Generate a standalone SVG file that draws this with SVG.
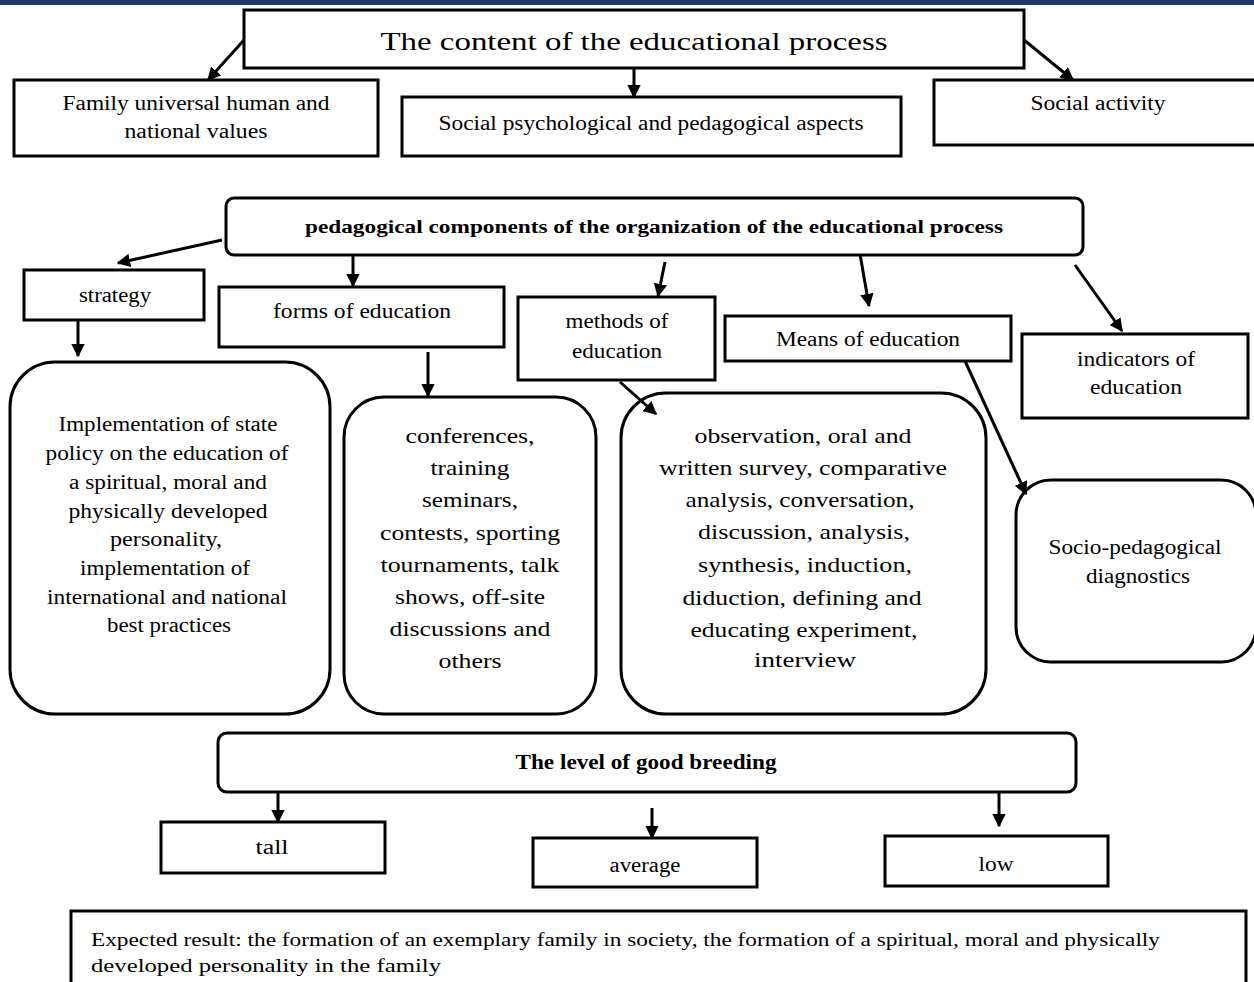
<svg xmlns="http://www.w3.org/2000/svg" width="1254" height="982" viewBox="0 0 1254 982">
<defs>
<marker id="ah" viewBox="0 0 10 10" refX="9" refY="5" markerWidth="4.5" markerHeight="4.5" orient="auto" markerUnits="strokeWidth">
<path d="M0,0 L10,5 L0,10 z" fill="#000"/>
</marker>
</defs>
<style>
.b{fill:#fff;stroke:#000;stroke-width:3}
.t{font-family:"Liberation Serif","DejaVu Serif",serif;font-size:20px;fill:#000;text-anchor:middle}
.bd{font-weight:bold}
.c{stroke:#000;stroke-width:3;fill:none;marker-end:url(#ah)}
</style>
<rect width="1254" height="982" fill="#fff"/>
<rect x="0" y="0" width="1254" height="5" fill="#1f3a68"/>

<g id="content">
<rect class="b" x="244" y="10" width="780" height="58"/>
<text class="t" x="634" y="50" style="font-size:26px" textLength="507" lengthAdjust="spacingAndGlyphs">The content of the educational process</text>
</g>
<g id="family">
<rect class="b" x="14" y="80" width="364" height="76"/>
<text class="t" x="196" y="110" textLength="267" lengthAdjust="spacingAndGlyphs">Family universal human and</text>
<text class="t" x="196" y="138" textLength="143" lengthAdjust="spacingAndGlyphs">national values</text>
</g>
<g id="socpsych">
<rect class="b" x="402" y="97" width="499" height="59"/>
<text class="t" x="651" y="130" textLength="425" lengthAdjust="spacingAndGlyphs">Social psychological and pedagogical aspects</text>
</g>
<g id="socact">
<rect class="b" x="934" y="80" width="322" height="65"/>
<text class="t" x="1098" y="110" textLength="135" lengthAdjust="spacingAndGlyphs">Social activity</text>
</g>

<g id="pedcomp">
<rect class="b" x="226" y="198" width="857" height="57" rx="8"/>
<text class="t bd" x="654" y="233" style="font-size:19px" textLength="698" lengthAdjust="spacingAndGlyphs">pedagogical components of the organization of the educational process</text>
</g>
<g id="strategy">
<rect class="b" x="24" y="270" width="180" height="50"/>
<text class="t" x="115" y="302" textLength="72" lengthAdjust="spacingAndGlyphs">strategy</text>
</g>
<g id="forms">
<rect class="b" x="219" y="287" width="285" height="60"/>
<text class="t" x="362" y="318" textLength="178" lengthAdjust="spacingAndGlyphs">forms of education</text>
</g>
<g id="methods">
<rect class="b" x="518" y="297" width="197" height="83"/>
<text class="t" x="617" y="328" textLength="103" lengthAdjust="spacingAndGlyphs">methods of</text>
<text class="t" x="617" y="358" textLength="90" lengthAdjust="spacingAndGlyphs">education</text>
</g>
<g id="means">
<rect class="b" x="725" y="316" width="286" height="45"/>
<text class="t" x="868" y="346" textLength="184" lengthAdjust="spacingAndGlyphs">Means of education</text>
</g>
<g id="indicators">
<rect class="b" x="1022" y="334" width="226" height="84"/>
<text class="t" x="1136" y="366" textLength="118" lengthAdjust="spacingAndGlyphs">indicators of</text>
<text class="t" x="1136" y="394" textLength="92" lengthAdjust="spacingAndGlyphs">education</text>
</g>

<g id="implementation">
<rect class="b" x="10" y="362" width="320" height="352" rx="45"/>
<text class="t" x="168" y="431" textLength="219" lengthAdjust="spacingAndGlyphs">Implementation of state</text>
<text class="t" x="167" y="460" textLength="243" lengthAdjust="spacingAndGlyphs">policy on the education of</text>
<text class="t" x="168" y="489" textLength="198" lengthAdjust="spacingAndGlyphs">a spiritual, moral and</text>
<text class="t" x="168" y="518" textLength="199" lengthAdjust="spacingAndGlyphs">physically developed</text>
<text class="t" x="166" y="546" textLength="112" lengthAdjust="spacingAndGlyphs">personality,</text>
<text class="t" x="165" y="575" textLength="170" lengthAdjust="spacingAndGlyphs">implementation of</text>
<text class="t" x="167" y="604" textLength="240" lengthAdjust="spacingAndGlyphs">international and national</text>
<text class="t" x="169" y="632" textLength="124" lengthAdjust="spacingAndGlyphs">best practices</text>
</g>
<g id="conferences">
<rect class="b" x="344" y="397" width="252" height="317" rx="40"/>
<text class="t" x="470" y="443" style="font-size:22px" textLength="129" lengthAdjust="spacingAndGlyphs">conferences,</text>
<text class="t" x="470" y="475" style="font-size:22px" textLength="79" lengthAdjust="spacingAndGlyphs">training</text>
<text class="t" x="470" y="507" style="font-size:22px" textLength="96" lengthAdjust="spacingAndGlyphs">seminars,</text>
<text class="t" x="470" y="540" style="font-size:22px" textLength="180" lengthAdjust="spacingAndGlyphs">contests, sporting</text>
<text class="t" x="470" y="572" style="font-size:22px" textLength="179" lengthAdjust="spacingAndGlyphs">tournaments, talk</text>
<text class="t" x="470" y="604" style="font-size:22px" textLength="150" lengthAdjust="spacingAndGlyphs">shows, off-site</text>
<text class="t" x="470" y="636" style="font-size:22px" textLength="161" lengthAdjust="spacingAndGlyphs">discussions and</text>
<text class="t" x="470" y="668" style="font-size:22px" textLength="63" lengthAdjust="spacingAndGlyphs">others</text>
</g>
<g id="observation">
<rect class="b" x="621" y="393" width="365" height="321" rx="45"/>
<text class="t" x="803" y="443" style="font-size:22px" textLength="217" lengthAdjust="spacingAndGlyphs">observation, oral and</text>
<text class="t" x="803" y="475" style="font-size:22px" textLength="288" lengthAdjust="spacingAndGlyphs">written survey, comparative</text>
<text class="t" x="800" y="507" style="font-size:22px" textLength="229" lengthAdjust="spacingAndGlyphs">analysis, conversation,</text>
<text class="t" x="804" y="539" style="font-size:22px" textLength="212" lengthAdjust="spacingAndGlyphs">discussion, analysis,</text>
<text class="t" x="805" y="572" style="font-size:22px" textLength="214" lengthAdjust="spacingAndGlyphs">synthesis, induction,</text>
<text class="t" x="802" y="605" style="font-size:22px" textLength="239" lengthAdjust="spacingAndGlyphs">diduction, defining and</text>
<text class="t" x="804" y="637" style="font-size:22px" textLength="227" lengthAdjust="spacingAndGlyphs">educating experiment,</text>
<text class="t" x="805" y="667" style="font-size:22px" textLength="102" lengthAdjust="spacingAndGlyphs">interview</text>
</g>
<g id="diagnostics">
<rect class="b" x="1016" y="480" width="240" height="182" rx="35"/>
<text class="t" x="1135" y="554" textLength="173" lengthAdjust="spacingAndGlyphs">Socio-pedagogical</text>
<text class="t" x="1138" y="583" textLength="104" lengthAdjust="spacingAndGlyphs">diagnostics</text>
</g>

<g id="level">
<rect class="b" x="218" y="733" width="858" height="59" rx="9"/>
<text class="t bd" x="646" y="769" textLength="261" lengthAdjust="spacingAndGlyphs">The level of good breeding</text>
</g>
<g id="tall">
<rect class="b" x="161" y="822" width="224" height="51"/>
<text class="t" x="272" y="854" textLength="33" lengthAdjust="spacingAndGlyphs">tall</text>
</g>
<g id="average">
<rect class="b" x="533" y="838" width="224" height="49"/>
<text class="t" x="645" y="872" textLength="71" lengthAdjust="spacingAndGlyphs">average</text>
</g>
<g id="low">
<rect class="b" x="885" y="836" width="223" height="50"/>
<text class="t" x="996" y="871" textLength="35" lengthAdjust="spacingAndGlyphs">low</text>
</g>
<g id="expected">
<rect class="b" x="71" y="911" width="1175" height="80"/>
<text class="t" x="91" y="946" style="text-anchor:start;font-size:19px" textLength="1069" lengthAdjust="spacingAndGlyphs">Expected result: the formation of an exemplary family in society, the formation of a spiritual, moral and physically</text>
<text class="t" x="91" y="972" style="text-anchor:start;font-size:19px" textLength="350" lengthAdjust="spacingAndGlyphs">developed personality in the family</text>
</g>

<g id="connectors">
<line class="c" x1="244" y1="40" x2="208" y2="80"/>
<line class="c" x1="634" y1="68" x2="634" y2="97"/>
<line class="c" x1="1024" y1="40" x2="1073" y2="80"/>
<line class="c" x1="222" y1="240" x2="118" y2="263"/>
<line class="c" x1="353" y1="255" x2="353" y2="286"/>
<line class="c" x1="665" y1="262" x2="658" y2="296"/>
<line class="c" x1="860" y1="254" x2="869" y2="306"/>
<line class="c" x1="1075" y1="265" x2="1122" y2="331"/>
<line class="c" x1="78" y1="320" x2="78" y2="356"/>
<line class="c" x1="428" y1="352" x2="428" y2="396"/>
<line class="c" x1="620" y1="382" x2="656" y2="414"/>
<line class="c" x1="965" y1="361" x2="1026" y2="494"/>
<line class="c" x1="278" y1="792" x2="278" y2="822"/>
<line class="c" x1="652" y1="808" x2="652" y2="838"/>
<line class="c" x1="999" y1="792" x2="999" y2="826"/>
</g>
</svg>
